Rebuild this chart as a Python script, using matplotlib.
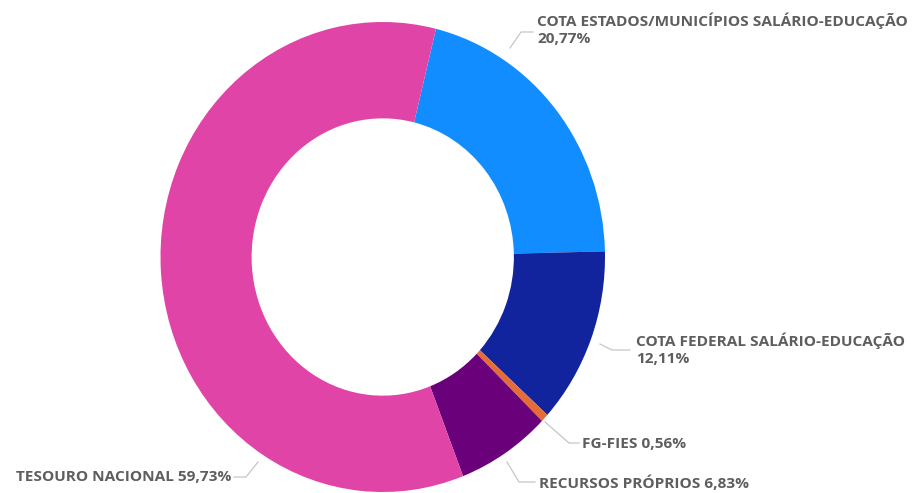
import matplotlib
matplotlib.use('Agg')
import matplotlib.pyplot as plt
import numpy as np

# Data: shares of each funding source (%)
fontes = ['COTA ESTADOS/MUNICÍPIOS SALÁRIO-EDUCAÇÃO',
          'COTA FEDERAL SALÁRIO-EDUCAÇÃO',
          'FG-FIES',
          'RECURSOS PRÓPRIOS',
          'TESOURO NACIONAL']
valores = [20.77, 12.11, 0.56, 6.83, 59.73]
cores = ['#118DFF', '#12239E', '#E66C37', '#6B007B', '#E044A7']
duas_linhas = [True, True, False, False, False]

W, H = 916, 493
fig = plt.figure(figsize=(W / 100, H / 100), dpi=100)

# ring spans x 160..605 px and y 22..492 px
left, right, top, bottom = 160.5, 605.0, 22.0, 492.0
ax = fig.add_axes([left / W, (H - bottom) / H, (right - left) / W, (bottom - top) / H])
cx, cy = (left + right) / 2, (top + bottom) / 2
rx, ry = (right - left) / 2, (bottom - top) / 2


def px(x, y):
    """pixel position -> data coordinates"""
    return (x - cx) / rx, (cy - y) / ry


ax.pie(valores, colors=cores, startangle=76.15, counterclock=False,
       radius=1.0, wedgeprops=dict(width=0.41, linewidth=0))
ax.set_aspect('auto')
ax.set_xlim(-1, 1)
ax.set_ylim(-1, 1)
ax.axis('off')

# leader line paths (pixels) and label anchor for each slice
guias = [
    [(510, 48), (521, 32), (533, 32)],
    [(600, 344), (612, 350), (630, 350)],
    [(545, 422), (569, 443), (579, 443)],
    [(507, 462), (519, 482), (535, 482)],
    [(258, 462), (246, 477), (234, 477)],
]
textos_pos = [(537, 29, 'left'), (636, 349, 'left'), (582, 444, 'left'),
              (539, 483, 'left'), (231, 477, 'right')]

cor_texto = '#605E5C'
for nome, v, dl, guia, (tx, ty, ha) in zip(fontes, valores, duas_linhas, guias, textos_pos):
    pct = f'{v:.2f}%'.replace('.', ',')
    rotulo = f'{nome}\n{pct}' if dl else f'{nome} {pct}'
    pts = np.array([px(x, y) for x, y in guia])
    ax.plot(pts[:, 0], pts[:, 1], color='#C8C6C4', lw=0.9, clip_on=False)
    x, y = px(tx, ty)
    ax.text(x, y, rotulo, ha=ha, va='center', fontsize=11.1, family='Open Sans',
            fontweight='bold', color=cor_texto, linespacing=1.25)

fig.savefig('out.png', dpi=100, facecolor='white')
